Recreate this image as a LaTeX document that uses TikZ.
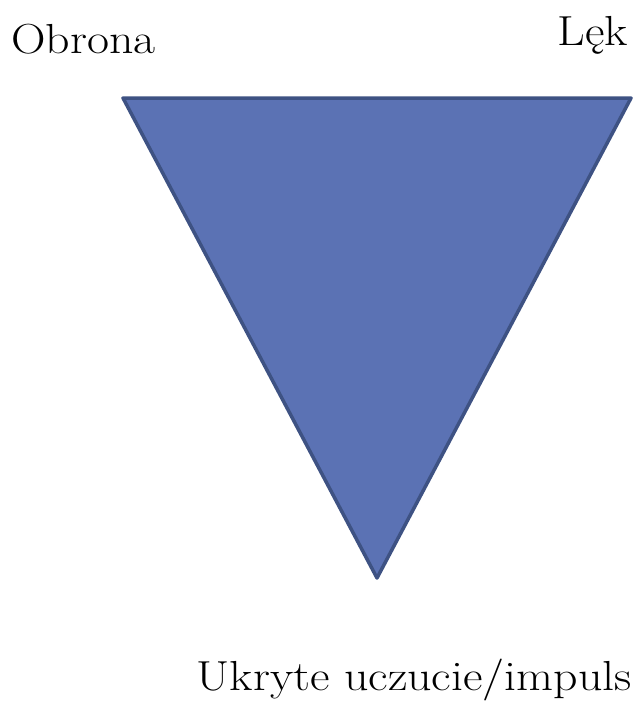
\documentclass[tikz,border=0pt]{standalone}
\usepackage{fontspec}
\setmainfont{Latin Modern Roman}[FakeStretch=1.14]
\definecolor{trifill}{HTML}{5B72B4}
\definecolor{tristroke}{HTML}{3E5283}
\begin{document}
\begin{tikzpicture}[x=1pt,y=-1pt,
  lbl/.style={inner sep=0pt,font=\fontsize{42}{48}\selectfont,text=black}]
\useasboundingbox (0,0) rectangle (634,704);
\coordinate (tl) at (123,98);
\coordinate (tr) at (631,98);
\coordinate (bt) at (377,578);
\filldraw[fill=trifill,draw=tristroke,line width=3.5pt,line join=round] (tl) -- (tr) -- (bt) -- cycle;
\node[lbl,anchor=base west] (obrona) at (11,53) {Obrona};
\node[lbl,anchor=base east] (lek) at (628,45) {Lęk};
\node[lbl,anchor=base east] (ukryte) at (632,690) {Ukryte uczucie/impuls};
\end{tikzpicture}
\end{document}
